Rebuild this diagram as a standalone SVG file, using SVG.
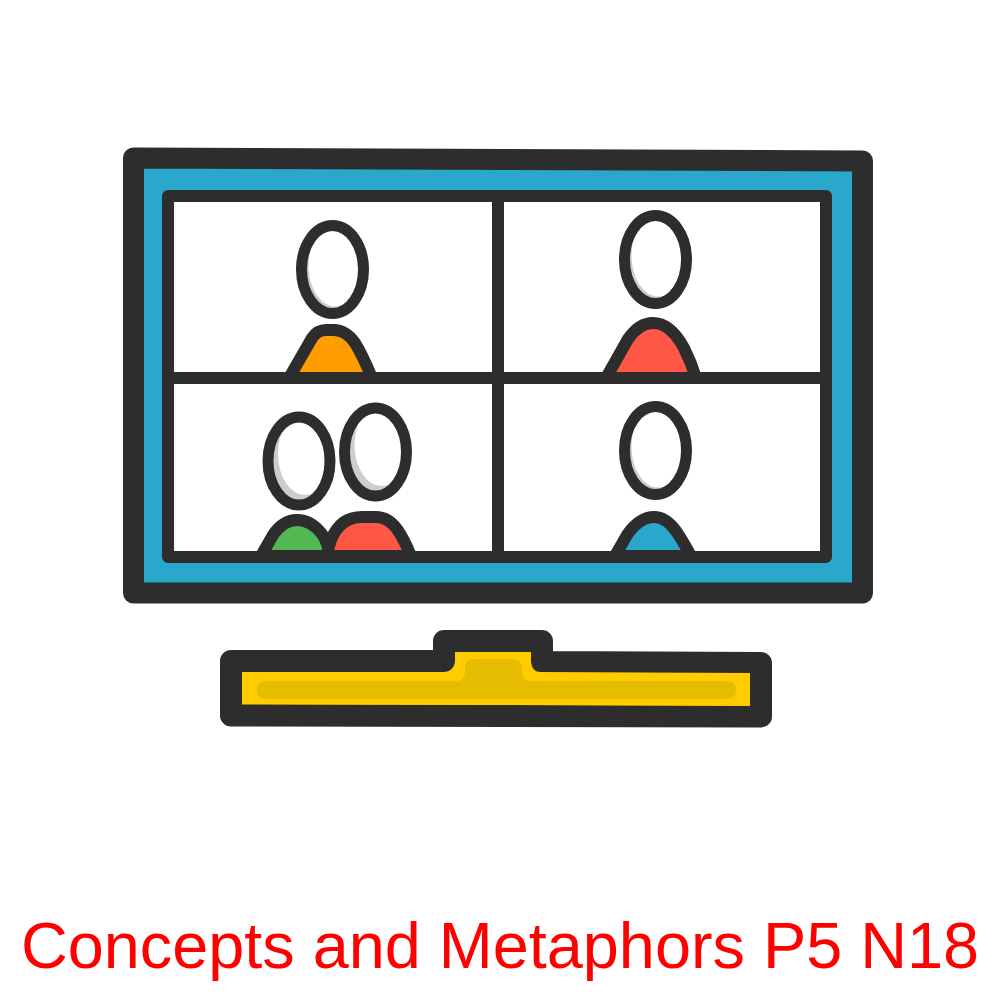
<svg xmlns="http://www.w3.org/2000/svg" width="1000" height="1000" viewBox="0 0 1000 1000">
<style>
.ln{stroke:#2d2d2d;fill:none}
.body{stroke:#2d2d2d;stroke-width:12;stroke-linejoin:round}
.hs{fill:#cdcdcd}
.hw{fill:#fff}
.ho{fill:none;stroke:#2d2d2d;stroke-width:11}
.cap{font-family:"Liberation Sans",Arial,sans-serif;font-size:64.8px;fill:#ff0000}
</style>
<defs>
<g id="head"><ellipse class="hs" rx="27" ry="40"/><ellipse class="hw" cx="3" cy="-4" rx="27" ry="41"/><ellipse class="ho" rx="31" ry="44"/></g>
<g id="head2"><ellipse class="hs" rx="27" ry="40"/><ellipse class="hw" cx="6" cy="-7" rx="27" ry="41"/><ellipse class="ho" rx="31" ry="44"/></g>
</defs>
<g id="monitor">
<polygon points="133.5,158 862.5,161 862.5,593 133.5,593" fill="#29a8cc" stroke="#2d2d2d" stroke-width="21" stroke-linejoin="round"/>
<rect x="168" y="196" width="658" height="361" fill="#fff" stroke="#2d2d2d" stroke-width="12" stroke-linejoin="round"/>
</g>
<g id="person-1">
<use href="#head" x="332.5" y="269.5"/>
<path class="body" fill="#ff9d00" d="M289 378L312 338C316 332 320 330 326 330L334 330C344 330 350 336 355 343C362 354 367 366 372 378Z"/>
</g>
<g id="person-2">
<use href="#head" x="655.5" y="259.5"/>
<path class="body" fill="#ff5745" d="M606 378L628 339C637 326 645 323 653 323C668 323 678 337 684 348C690 360 693 368 696 378Z"/>
</g>
<g id="person-3">
<use href="#head2" x="299" y="461"/>
<path class="body" fill="#52b852" d="M261 556L273 535Q283 520 297 520Q311 520 322 534Q328 543 330 556Z"/>
</g>
<g id="person-4">
<use href="#head2" x="375.5" y="452"/>
<path class="body" fill="#ff5745" d="M326 556L331 540Q340 517 362 517L376 517Q388 517 397 529Q404 539 411 556Z"/>
</g>
<g id="person-5">
<use href="#head" x="655.5" y="450.500"/>
<path class="body" fill="#29a8cc" d="M615 556L627 535C636 522 645 517 654 517C664 517 671 524 676 531C683 541 687 549 691 556Z"/>
</g>
<g id="connectors">
<path class="ln" stroke-width="12" d="M498 196V557M168 378H826M168 557H826"/>
</g>
<g id="stand">
<path fill="#ffcc00" stroke="#2d2d2d" stroke-width="22" stroke-linejoin="round" d="M231 661H444V641H542V662L761 663V716.500L231 715.500Z"/>
<path fill="#ffcc00" d="M242 672H445Q455 672 455 662V652H531V662Q531 672 541 672L750 673V706L242 704Z"/>
<path fill="#e6bc00" d="M266 681H456Q465 681 465 672V668Q465 659 474 659H512Q522 659 522 668V672Q522 681 531 681H727Q736 681 736 690Q736 699 727 699H266Q257 699 257 690Q257 681 266 681Z"/>
</g>
<text class="cap" x="500" y="968" text-anchor="middle">Concepts and Metaphors P5 N18</text>
</svg>
